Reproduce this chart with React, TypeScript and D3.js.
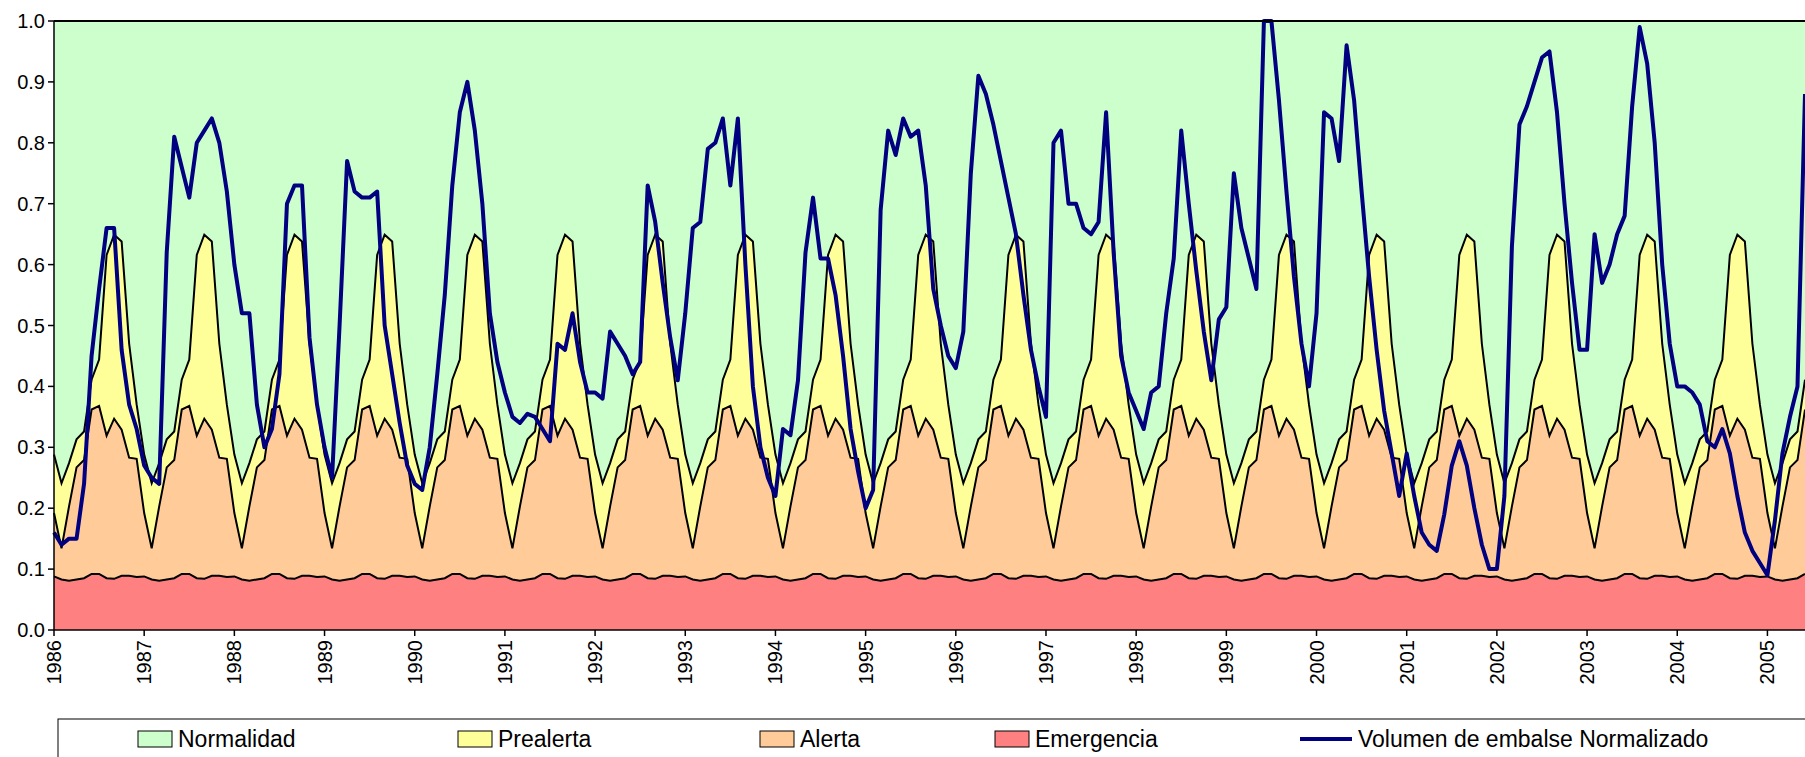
import React from "react";
import * as d3 from "d3";

const prealertaYear = [0.288, 0.241, 0.274, 0.313, 0.326, 0.411, 0.444, 0.616, 0.649, 0.638, 0.47, 0.37];
const alertaYear = [0.192, 0.134, 0.203, 0.267, 0.279, 0.362, 0.368, 0.319, 0.347, 0.329, 0.283, 0.281];
const emergenciaYear = [0.088, 0.083, 0.081, 0.083, 0.085, 0.092, 0.092, 0.085, 0.084, 0.089, 0.089, 0.087];
const volumen = [
  0.16,0.14,0.15,0.15,0.24,0.45,0.56,0.66,0.66,0.46,0.37,0.33,
  0.27,0.25,0.24,0.62,0.81,0.76,0.71,0.80,0.82,0.84,0.80,0.72,
  0.60,0.52,0.52,0.37,0.30,0.33,0.42,0.70,0.73,0.73,0.48,0.37,
  0.30,0.25,0.50,0.77,0.72,0.71,0.71,0.72,0.50,0.42,0.34,0.27,
  0.24,0.23,0.30,0.42,0.55,0.73,0.85,0.90,0.82,0.70,0.52,0.44,
  0.39,0.35,0.34,0.355,0.35,0.33,0.31,0.47,0.46,0.52,0.44,0.39,
  0.39,0.38,0.49,0.47,0.45,0.42,0.44,0.73,0.67,0.57,0.48,0.41,
  0.52,0.66,0.67,0.79,0.80,0.84,0.73,0.84,0.60,0.40,0.30,0.25,
  0.22,0.33,0.32,0.41,0.62,0.71,0.61,0.61,0.55,0.45,0.33,0.26,
  0.20,0.23,0.69,0.82,0.78,0.84,0.81,0.82,0.73,0.56,0.50,0.45,
  0.43,0.49,0.75,0.91,0.88,0.83,0.77,0.71,0.65,0.55,0.46,0.40,
  0.35,0.80,0.82,0.70,0.70,0.66,0.65,0.67,0.85,0.62,0.45,0.39,
  0.36,0.33,0.39,0.40,0.52,0.61,0.82,0.70,0.59,0.49,0.41,0.51,
  0.53,0.75,0.66,0.61,0.56,1.0,1.0,0.87,0.72,0.58,0.47,0.40,
  0.52,0.85,0.84,0.77,0.96,0.87,0.72,0.58,0.46,0.36,0.29,0.22,
  0.29,0.22,0.16,0.14,0.13,0.19,0.27,0.31,0.27,0.20,0.14,0.10,
  0.10,0.22,0.63,0.83,0.86,0.90,0.94,0.95,0.85,0.70,0.57,0.46,
  0.46,0.65,0.57,0.60,0.65,0.68,0.86,0.99,0.93,0.80,0.60,0.47,
  0.40,0.40,0.39,0.37,0.31,0.30,0.33,0.29,0.22,0.16,0.13,0.11,
  0.09,0.18,0.29,0.35,0.40,0.88,
];
const years = d3.range(1986, 2006);
const yTicks = d3.range(0, 1.01, 0.1);

const legendItems = [
  { label: "Normalidad", color: "#ccffcc", x: 138, type: "box" },
  { label: "Prealerta", color: "#ffff99", x: 458, type: "box" },
  { label: "Alerta", color: "#ffcc99", x: 760, type: "box" },
  { label: "Emergencia", color: "#ff8080", x: 995, type: "box" },
  { label: "Volumen de embalse Normalizado", color: "#000080", x: 1300, type: "line" },
];

export default function App() {
  const W = 1805, H = 757;
  const left = 54, right = 1805, top = 21, bottom = 630;
  const n = volumen.length;
  const t = (i: number) => 1986 + i / 12;
  const x = d3.scaleLinear().domain([1986, 1986 + (n - 1) / 12]).range([left, right]);
  const y = d3.scaleLinear().domain([0, 1]).range([bottom, top]);
  const idx = d3.range(n);
  const pre = idx.map((i) => prealertaYear[i % 12]);
  const ale = idx.map((i) => alertaYear[i % 12]);
  const eme = idx.map((i) => emergenciaYear[i % 12]);
  const area = (vals: number[]) =>
    d3.area<number>().x((i) => x(t(i))).y0(y(0)).y1((i) => y(vals[i]))(idx) || "";
  const line = (vals: number[]) => d3.line<number>().x((i) => x(t(i))).y((i) => y(vals[i]))(idx) || "";
  const font = "Arial, 'Liberation Sans', sans-serif";
  return (
    <div style={{ position: "fixed", left: 0, top: 0 }}>
      <svg width={W} height={H} style={{ display: "block", background: "#fff" }} fontFamily={font}>
        <rect x={left} y={top} width={right - left} height={bottom - top} fill="#ccffcc" />
        <path d={area(pre)} fill="#ffff99" />
        <path d={area(ale)} fill="#ffcc99" />
        <path d={area(eme)} fill="#ff8080" />
        <path d={line(pre)} fill="none" stroke="#000" strokeWidth={2} />
        <path d={line(ale)} fill="none" stroke="#000" strokeWidth={2} />
        <path d={line(eme)} fill="none" stroke="#000" strokeWidth={2} />
        <path d={line(volumen)} fill="none" stroke="#000080" strokeWidth={4} strokeLinejoin="round" />
        <line x1={left} x2={right} y1={top} y2={top} stroke="#000" strokeWidth={2} />
        <line x1={left} x2={left} y1={top} y2={bottom} stroke="#000" strokeWidth={1.5} />
        <line x1={left} x2={right} y1={bottom} y2={bottom} stroke="#000" strokeWidth={1.5} />
        {yTicks.map((v) => (
          <g key={v}>
            <line x1={left - 6} x2={left} y1={y(v)} y2={y(v)} stroke="#000" strokeWidth={1.5} />
            <text x={left - 9} y={y(v)} dy="0.35em" textAnchor="end" fontSize={20}>{v.toFixed(1)}</text>
          </g>
        ))}
        {years.map((yr) => (
          <g key={yr}>
            <line x1={x(yr)} x2={x(yr)} y1={bottom} y2={bottom + 6} stroke="#000" strokeWidth={1.5} />
            <text transform={`translate(${x(yr) + 7},${bottom + 10}) rotate(-90)`} textAnchor="end" fontSize={20}>{yr}</text>
          </g>
        ))}
        <rect x={58} y={719} width={1760} height={60} fill="#fff" stroke="#000" strokeWidth={1} />
        {legendItems.map((it) => (
          <g key={it.label}>
            {it.type === "box" ? (
              <rect x={it.x} y={731} width={34} height={16} fill={it.color} stroke="#000" strokeWidth={1} />
            ) : (
              <line x1={it.x} x2={it.x + 52} y1={739} y2={739} stroke={it.color} strokeWidth={4} />
            )}
            <text x={it.x + (it.type === "box" ? 40 : 58)} y={739} dy="0.36em" fontSize={23}>{it.label}</text>
          </g>
        ))}
      </svg>
    </div>
  );
}
